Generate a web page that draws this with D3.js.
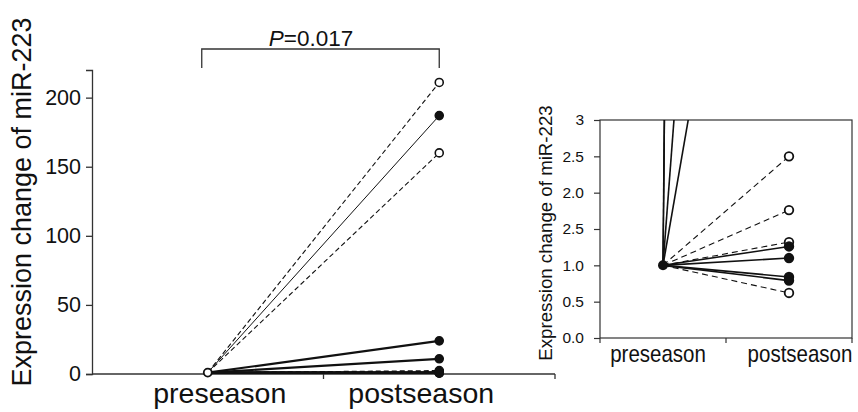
<!DOCTYPE html>
<html>
<head>
<meta charset="utf-8">
<script src="https://cdn.jsdelivr.net/npm/d3@7"></script>
<style>
  body { margin: 0; background: #fff; }
  text { font-family: Arial, "Liberation Sans", sans-serif; fill: #111; }
</style>
</head>
<body>
<div id="chart"></div>
<script>
// categories on the x axis
var seasons = ["preseason", "postseason"];

// postseason expression change per subject (preseason is 1 for all)
var postValues = [211, 160, 2.5, 1.76, 1.32, 0.62, 187, 24, 11, 1.26, 1.10, 0.84, 0.79];
// open (dashed) or filled (solid) marker per subject
var openMarker = [true, true, true, true, true, true, false, false, false, false, false, false, false];
var preValue = 1;

// axis ticks
var mainTicks = [0, 50, 100, 150, 200];
var insetTicks = [0, 0.5, 1, 1.5, 2, 2.5, 3];
var insetTickLabels = ["0.0", "0.5", "1.0", "2.5", "2.0", "2.5", "3"];

var yTitle = "Expression change of miR-223";
var pText = "=0.017";

var width = 858, height = 412;

var svg = d3.select("#chart").append("svg")
    .attr("width", width)
    .attr("height", height);

var axisColor = "#333";

// ****************** main chart ***************************

var xMain = d3.scaleBand().domain(seasons).range([92, 555]);
var yMain = d3.scaleLinear().domain([0, 220]).range([374, 70]);
var cx = function(s) { return xMain(s) + xMain.bandwidth() / 2; };

// y axis
var yAxisMain = svg.append("g")
    .attr("transform", "translate(92,0)")
    .call(d3.axisLeft(yMain).tickValues(mainTicks).tickSizeOuter(0).tickSize(6).tickPadding(5));
yAxisMain.selectAll("path, line").attr("stroke", axisColor).attr("stroke-width", 1.3);
yAxisMain.selectAll("text")
    .attr("font-size", "21.5px")
    .attr("font-family", "Arial, 'Liberation Sans', sans-serif")
    .attr("fill", "#111");

// x axis: baseline plus ticks at band edges
svg.append("line")
    .attr("x1", xMain.range()[0]).attr("x2", xMain.range()[1])
    .attr("y1", yMain(0)).attr("y2", yMain(0))
    .attr("stroke", axisColor).attr("stroke-width", 1.3);
svg.selectAll(".xtick-main")
    .data(seasons)
    .enter().append("line")
    .attr("class", "xtick-main")
    .attr("x1", function(d) { return xMain(d) + xMain.bandwidth(); })
    .attr("x2", function(d) { return xMain(d) + xMain.bandwidth(); })
    .attr("y1", yMain(0)).attr("y2", yMain(0) + 5)
    .attr("stroke", axisColor).attr("stroke-width", 1.3);
// labels sit a little toward the middle tick, as in the original
svg.selectAll(".xlab-main")
    .data(seasons)
    .enter().append("text")
    .attr("class", "xlab-main")
    .attr("x", cx)
    .attr("dx", function(d, i) { return i === 0 ? 12 : -18; })
    .attr("y", 403)
    .attr("text-anchor", "middle")
    .attr("font-size", "28.5px")
    .text(function(d) { return d; });

// y title
svg.append("text")
    .attr("transform", "translate(31,202) rotate(-90)")
    .attr("text-anchor", "middle")
    .attr("font-size", "27px")
    .text(yTitle);

// lines per subject
svg.selectAll(".line-main")
    .data(postValues)
    .enter().append("line")
    .attr("class", "line-main")
    .attr("x1", cx("preseason")).attr("y1", yMain(preValue))
    .attr("x2", cx("postseason"))
    .attr("y2", function(d) { return yMain(d); })
    .attr("stroke", "#111")
    .attr("stroke-width", function(d, i) {
      if (openMarker[i]) return 1.1;
      return d > 100 ? 1 : 2.2;
    })
    .attr("stroke-dasharray", function(d, i) { return openMarker[i] ? "5,3" : null; });

// postseason markers (open first so filled ones sit on top)
var orderIdx = d3.range(postValues.length).sort(function(a, b) { return openMarker[b] - openMarker[a]; });
svg.selectAll(".dot-main")
    .data(orderIdx)
    .enter().append("circle")
    .attr("class", "dot-main")
    .attr("cx", cx("postseason"))
    .attr("cy", function(i) { return yMain(postValues[i]); })
    .attr("r", 4)
    .attr("fill", function(i) { return openMarker[i] ? "#fff" : "#111"; })
    .attr("stroke", "#111")
    .attr("stroke-width", 1.6);

// preseason marker
svg.append("circle")
    .attr("cx", cx("preseason"))
    .attr("cy", yMain(preValue))
    .attr("r", 4)
    .attr("fill", "#fff")
    .attr("stroke", "#111")
    .attr("stroke-width", 1.8);

// significance bracket
var bx1 = cx("preseason") - 6, bx2 = cx("postseason");
svg.append("path")
    .attr("d", "M" + bx1 + ",68 V49 H" + bx2 + " V68")
    .attr("fill", "none")
    .attr("stroke", axisColor)
    .attr("stroke-width", 1.3);
var ptext = svg.append("text")
    .attr("x", 311)
    .attr("y", 46)
    .attr("text-anchor", "middle")
    .attr("font-size", "22.5px");
ptext.append("tspan").attr("font-style", "italic").text("P");
ptext.append("tspan").text(pText);

// ****************** inset chart ***************************

var xIn = d3.scaleBand().domain(seasons).range([600, 852]);
var yIn = d3.scaleLinear().domain([0, 3]).range([338, 120]);
var cxIn = function(s) { return xIn(s) + xIn.bandwidth() / 2; };

svg.append("clipPath")
    .attr("id", "inset-clip")
    .append("rect")
    .attr("x", 600).attr("y", 120)
    .attr("width", 252).attr("height", 218);

// frame
svg.append("rect")
    .attr("x", 600).attr("y", yIn(3))
    .attr("width", 252).attr("height", yIn(0) - yIn(3))
    .attr("fill", "none")
    .attr("stroke", axisColor)
    .attr("stroke-width", 1.2);

// y axis ticks and labels
var yAxisIn = svg.append("g")
    .attr("transform", "translate(600,0)")
    .call(d3.axisLeft(yIn).tickValues(insetTicks).tickSizeOuter(0).tickSize(6).tickPadding(10)
      .tickFormat(function(d, i) { return insetTickLabels[i]; }));
yAxisIn.select("path").remove();
yAxisIn.selectAll("line").attr("stroke", axisColor).attr("stroke-width", 1.2);
yAxisIn.selectAll("text")
    .attr("font-size", "15.5px")
    .attr("font-family", "Arial, 'Liberation Sans', sans-serif")
    .attr("fill", "#111");

// x ticks at band edges
svg.selectAll(".xtick-in")
    .data(seasons)
    .enter().append("line")
    .attr("class", "xtick-in")
    .attr("x1", function(d) { return xIn(d) + xIn.bandwidth(); })
    .attr("x2", function(d) { return xIn(d) + xIn.bandwidth(); })
    .attr("y1", yIn(0)).attr("y2", yIn(0) + 5)
    .attr("stroke", axisColor).attr("stroke-width", 1.2);
svg.append("line")
    .attr("x1", 600).attr("x2", 600)
    .attr("y1", yIn(0)).attr("y2", yIn(0) + 5)
    .attr("stroke", axisColor).attr("stroke-width", 1.2);
// the original labels are narrow and tall, so stretch them vertically
svg.selectAll(".xlab-in")
    .data(seasons)
    .enter().append("text")
    .attr("class", "xlab-in")
    .attr("transform", function(d, i) {
      return "translate(" + (cxIn(d) + (i === 0 ? -5 : 11)) + ",362) scale(1,1.15)";
    })
    .attr("text-anchor", "middle")
    .attr("font-size", "20.5px")
    .text(function(d) { return d; });

// y title
svg.append("text")
    .attr("transform", "translate(552,233) rotate(-90)")
    .attr("text-anchor", "middle")
    .attr("font-size", "18.7px")
    .text(yTitle);

var insetG = svg.append("g").attr("clip-path", "url(#inset-clip)");

insetG.selectAll(".line-in")
    .data(postValues)
    .enter().append("line")
    .attr("class", "line-in")
    .attr("x1", cxIn("preseason")).attr("y1", yIn(preValue))
    .attr("x2", cxIn("postseason"))
    .attr("y2", function(d) { return yIn(d); })
    .attr("stroke", "#111")
    .attr("stroke-width", function(d, i) { return openMarker[i] ? 1.1 : 1.6; })
    .attr("stroke-dasharray", function(d, i) { return openMarker[i] && d < 3 ? "6,4" : null; });

insetG.selectAll(".dot-in")
    .data(orderIdx.filter(function(i) { return postValues[i] <= 3; }))
    .enter().append("circle")
    .attr("class", "dot-in")
    .attr("cx", cxIn("postseason"))
    .attr("cy", function(i) { return yIn(postValues[i]); })
    .attr("r", 4.3)
    .attr("fill", function(i) { return openMarker[i] ? "#fff" : "#111"; })
    .attr("stroke", "#111")
    .attr("stroke-width", 1.8);

insetG.append("circle")
    .attr("cx", cxIn("preseason"))
    .attr("cy", yIn(preValue))
    .attr("r", 5)
    .attr("fill", "#111");
</script>
</body>
</html>
